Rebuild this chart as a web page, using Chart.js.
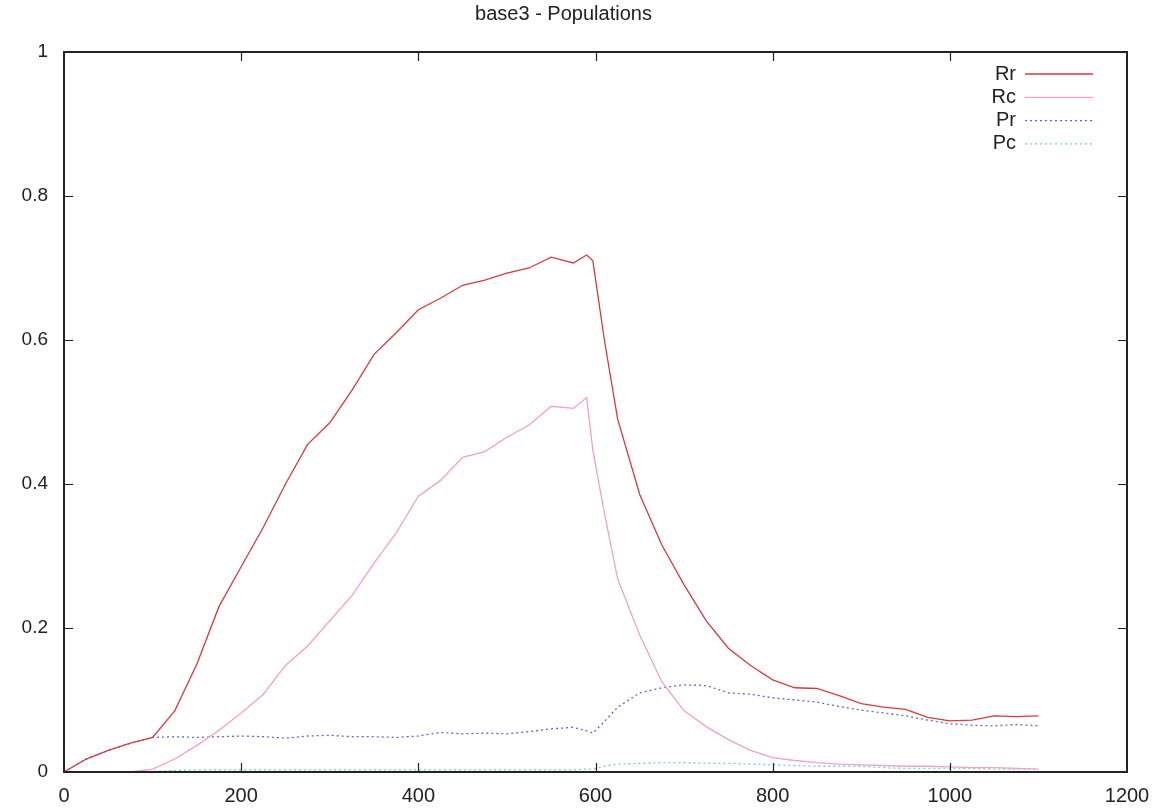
<!DOCTYPE html>
<html>
<head>
<meta charset="utf-8">
<title>base3 - Populations</title>
<script src="https://cdn.jsdelivr.net/npm/chart.js@4"></script>
<style>
    html, body { margin: 0; padding: 0; background: #fff; }
    #wrap { width: 1167px; height: 809px; }
</style>
</head>
<body>
<div id="wrap"><canvas id="pop"></canvas></div>
<script>
// sample times (shared by all four series)
const steps = [0, 25, 50, 75, 100, 125, 150, 175, 200, 225, 250, 275, 300, 325, 350, 375,
    400, 425, 450, 475, 500, 525, 550, 575, 590, 597, 610, 625, 650, 675, 700, 725, 750,
    775, 800, 825, 850, 875, 900, 925, 950, 975, 1000, 1025, 1050, 1075, 1100];

const rr = [0, 0.018, 0.03, 0.04, 0.048, 0.085, 0.15, 0.23, 0.285, 0.34, 0.40, 0.455, 0.485,
    0.53, 0.58, 0.61, 0.642, 0.658, 0.676, 0.683, 0.693, 0.70, 0.715, 0.707, 0.718, 0.71,
    0.60, 0.49, 0.385, 0.315, 0.26, 0.21, 0.172, 0.148, 0.128, 0.117, 0.116, 0.106, 0.095,
    0.09, 0.087, 0.076, 0.071, 0.072, 0.078, 0.077, 0.078];

const rc = [0, 0, 0, 0, 0.004, 0.018, 0.037, 0.058, 0.082, 0.108, 0.148, 0.175, 0.21, 0.245,
    0.29, 0.332, 0.383, 0.405, 0.437, 0.445, 0.465, 0.482, 0.508, 0.505, 0.52, 0.447, 0.36,
    0.268, 0.19, 0.125, 0.085, 0.063, 0.045, 0.03, 0.02, 0.016, 0.013, 0.011, 0.01, 0.009,
    0.008, 0.008, 0.007, 0.006, 0.006, 0.005, 0.004];

const pr = [0, 0.018, 0.03, 0.04, 0.048, 0.049, 0.048, 0.049, 0.05, 0.049, 0.047, 0.05, 0.051,
    0.049, 0.049, 0.048, 0.05, 0.055, 0.053, 0.054, 0.053, 0.056, 0.06, 0.062, 0.057, 0.054,
    0.07, 0.09, 0.11, 0.117, 0.121, 0.12, 0.11, 0.108, 0.103, 0.1, 0.097, 0.091, 0.086,
    0.082, 0.078, 0.072, 0.067, 0.065, 0.064, 0.066, 0.064];

const pc = [0, 0, 0, 0, 0.001, 0.002, 0.003, 0.003, 0.003, 0.003, 0.003, 0.003, 0.003, 0.003,
    0.003, 0.003, 0.003, 0.003, 0.003, 0.003, 0.003, 0.003, 0.003, 0.003, 0.004, 0.004,
    0.008, 0.011, 0.012, 0.013, 0.013, 0.012, 0.012, 0.011, 0.01, 0.009, 0.008, 0.008, 0.008,
    0.006, 0.005, 0.005, 0.005, 0.005, 0.004, 0.004, 0.004];

const xTicks = [0, 200, 400, 600, 800, 1000, 1200];
const yTicks = [0, 0.2, 0.4, 0.6, 0.8, 1];

const FONT = '"Liberation Sans", Arial, Helvetica, sans-serif';
const INK = '#222';

function points(values) {
    return values.map((v, i) => ({ x: steps[i], y: v }));
}

// gnuplot-like box with inward ticks on all four sides
const framePlugin = {
    id: 'frame',
    afterDatasetsDraw(chart) {
        const { ctx, chartArea: a, scales: { x, y } } = chart;
        ctx.save();
        ctx.strokeStyle = INK;
        ctx.lineWidth = 1.2;
        ctx.beginPath();
        xTicks.slice(1, -1).forEach(v => {
            const px = Math.round(x.getPixelForValue(v)) + 0.5;
            ctx.moveTo(px, a.bottom); ctx.lineTo(px, a.bottom - 9);
            ctx.moveTo(px, a.top); ctx.lineTo(px, a.top + 9);
        });
        yTicks.slice(1, -1).forEach(v => {
            const py = Math.round(y.getPixelForValue(v)) + 0.5;
            ctx.moveTo(a.left, py); ctx.lineTo(a.left + 9, py);
            ctx.moveTo(a.right, py); ctx.lineTo(a.right - 9, py);
        });
        ctx.stroke();
        ctx.lineWidth = 2;
        ctx.strokeRect(a.left, a.top, a.right - a.left, a.bottom - a.top);
        ctx.restore();
    }
};

// key in the top right corner: label, then a short sample of the line
const keyPlugin = {
    id: 'key',
    afterDatasetsDraw(chart) {
        const { ctx } = chart;
        const right = 1016, x0 = 1025, x1 = 1093;
        ctx.save();
        ctx.font = '20px ' + FONT;
        ctx.textAlign = 'right';
        ctx.textBaseline = 'middle';
        chart.data.datasets.forEach((ds, i) => {
            const yy = 74 + i * 23.3;
            ctx.fillStyle = INK;
            ctx.fillText(ds.label, right, yy);
            ctx.strokeStyle = ds.borderColor;
            ctx.lineWidth = ds.borderWidth;
            ctx.setLineDash(ds.borderDash || []);
            ctx.beginPath();
            ctx.moveTo(x0, yy); ctx.lineTo(x1, yy);
            ctx.stroke();
        });
        ctx.restore();
    }
};

function series(label, values, color, dash) {
    return {
        label: label,
        data: points(values),
        borderColor: color,
        borderWidth: 1.3,
        borderDash: dash,
        pointRadius: 0,
        fill: false,
        tension: 0,
    };
}

new Chart(document.getElementById('pop'), {
    type: 'line',
    data: {
        datasets: [
            series('Rr', rr, 'rgb(214,58,64)', []),
            series('Rc', rc, 'rgb(240,160,205)', []),
            series('Pr', pr, 'rgb(100,100,210)', [2, 3]),
            series('Pc', pc, 'rgb(110,210,214)', [2, 3]),
        ]
    },
    options: {
        responsive: true,
        maintainAspectRatio: false,
        animation: false,
        layout: { padding: { left: 0, right: 40, top: 0, bottom: 0 } },
        plugins: {
            legend: { display: false },
            tooltip: { enabled: false },
            title: {
                display: true,
                text: 'base3 - Populations',
                color: INK,
                font: { family: FONT, size: 20, weight: 'normal' },
                padding: { top: 2, bottom: 26 },
            },
        },
        scales: {
            x: {
                type: 'linear',
                min: 0,
                max: 1200,
                afterBuildTicks: s => { s.ticks = xTicks.map(v => ({ value: v })); },
                afterFit: s => { s.height = 37; },
                ticks: {
                    color: INK,
                    padding: 12,
                    font: { family: FONT, size: 20 },
                    callback: v => String(v),
                },
                grid: { display: false, drawTicks: false },
                border: { display: false },
            },
            y: {
                min: 0,
                max: 1,
                afterBuildTicks: s => { s.ticks = yTicks.map(v => ({ value: v })); },
                afterFit: s => { s.width = 64; },
                ticks: {
                    color: INK,
                    padding: 16,
                    font: { family: FONT, size: 19 },
                    callback: v => String(v),
                },
                grid: { display: false, drawTicks: false },
                border: { display: false },
            },
        },
    },
    plugins: [framePlugin, keyPlugin],
});
</script>
</body>
</html>
